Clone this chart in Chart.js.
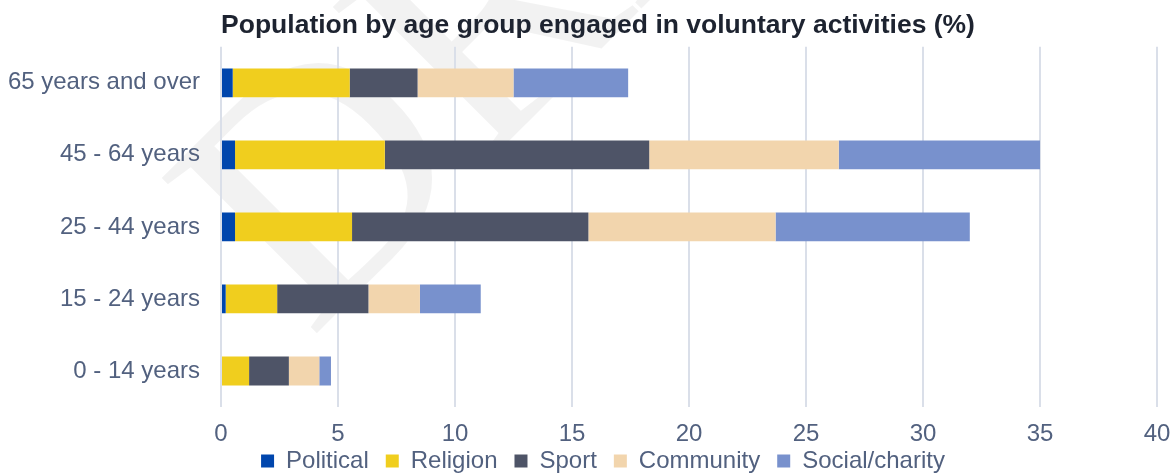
<!DOCTYPE html>
<html>
<head>
<meta charset="utf-8">
<title>Population by age group engaged in voluntary activities (%)</title>
<script src="https://cdn.jsdelivr.net/npm/chart.js@4/dist/chart.umd.min.js"></script>
<style>
  html, body { margin: 0; padding: 0; background: #ffffff; }
  #chart { display: block; }
</style>
</head>
<body>
<canvas id="chart" width="1176" height="473"></canvas>
<script>
// Age groups, top to bottom
const ageGroups = ['65 years and over', '45 - 64 years', '25 - 44 years', '15 - 24 years', '0 - 14 years'];

// Share of each age group engaged in each kind of voluntary activity (%)
const political = [0.5, 0.6, 0.6, 0.2, 0.0];
const religion  = [5.0, 6.4, 5.0, 2.2, 1.2];
const sport     = [2.9, 11.3, 10.1, 3.9, 1.7];
const community = [4.1, 8.1, 8.0, 2.2, 1.3];
const social    = [4.9, 8.6, 8.3, 2.6, 0.5];

const seriesNames = ['Political', 'Religion', 'Sport', 'Community', 'Social/charity'];
const seriesColors = ['#0046ad', '#f0ce1e', '#4e5467', '#f2d5ad', '#7891cd'];
const seriesValues = [political, religion, sport, community, social];

const xTickMin = 0;
const xTickMax = 40;
const xTickStep = 5;

const titleText = 'Population by age group engaged in voluntary activities (%)';
const watermarkText = 'DRAFT';

const fontFamily = "'Liberation Sans', Arial, sans-serif";
const labelColor = '#52617f';
const gridColor = '#dadfe9';

// Faint diagonal watermark painted underneath everything else
const watermark = {
  id: 'watermark',
  beforeDraw(chart) {
    const ctx = chart.ctx;
    ctx.save();
    ctx.translate(310, 340);
    ctx.rotate(-Math.PI / 4);
    ctx.font = "335px 'Liberation Serif', 'DejaVu Serif', serif";
    ctx.fillStyle = 'rgba(0,0,0,0.05)';
    ctx.textBaseline = 'alphabetic';
    ctx.fillText(watermarkText, 0, 0);
    ctx.restore();
  }
};

// Place the title and legend rows after the layout has sized the plot area
const blockPlacement = {
  id: 'blockPlacement',
  afterLayout(chart) {
    const title = chart.titleBlock;
    if (title) {
      title.left = 39;
      title.right = 1157;
      title.width = title.right - title.left;
    }
    const legend = chart.legend;
    if (legend) {
      const h = legend.height;
      legend.top = 432;
      legend.bottom = 432 + h;
      legend.left = 49;
      legend.right = 1157;
      legend.width = legend.right - legend.left;
    }
  }
};

const datasets = seriesNames.map((name, i) => ({
  label: name,
  data: seriesValues[i],
  backgroundColor: seriesColors[i],
  borderWidth: 0,
  barPercentage: 0.8,
  categoryPercentage: 0.5
}));

new Chart(document.getElementById('chart'), {
  type: 'bar',
  data: { labels: ageGroups, datasets },
  plugins: [watermark, blockPlacement],
  options: {
    indexAxis: 'y',
    responsive: false,
    animation: false,
    layout: { padding: { left: 0, right: 19, top: 0, bottom: -40.6 } },
    font: { family: fontFamily },
    plugins: {
      title: {
        display: true,
        text: titleText,
        color: '#1d2330',
        font: { family: fontFamily, size: 26.5, weight: 'bold' },
        padding: { top: 10, bottom: 5 }
      },
      legend: {
        position: 'bottom',
        labels: {
          boxWidth: 13,
          boxHeight: 13,
          padding: 17,
          color: labelColor,
          font: { family: fontFamily, size: 24 }
        }
      },
      tooltip: { enabled: false }
    },
    scales: {
      x: {
        stacked: true,
        min: xTickMin,
        max: xTickMax,
        ticks: {
          stepSize: xTickStep,
          padding: 5,
          color: labelColor,
          font: { family: fontFamily, size: 24, lineHeight: 1.9 }
        },
        grid: { color: gridColor, lineWidth: 2, drawTicks: false },
        border: { display: false }
      },
      y: {
        stacked: true,
        ticks: {
          padding: 21,
          color: labelColor,
          font: { family: fontFamily, size: 24, lineHeight: 1.2 }
        },
        grid: { display: false, drawTicks: false },
        border: { display: false },
        afterFit(scale) { scale.width = 221; }
      }
    }
  }
});
</script>
</body>
</html>
